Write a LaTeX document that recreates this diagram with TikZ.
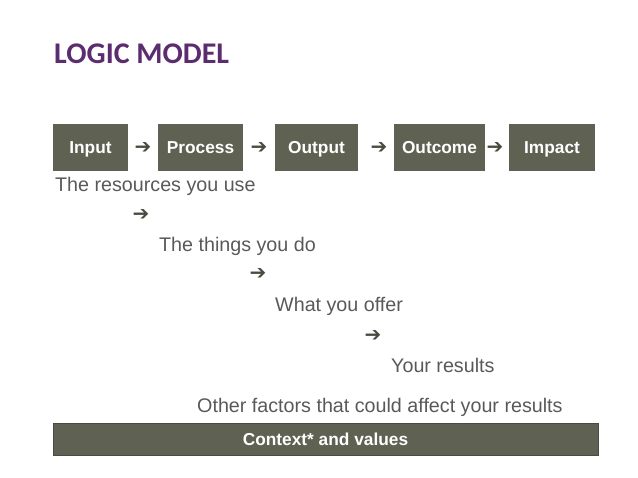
\documentclass[tikz,border=0pt]{standalone}
\usepackage{fontspec}
\setmainfont{Liberation Sans}
\newfontfamily\titlefont{Carlito}
\newfontfamily\symfont{DejaVu Sans}
\definecolor{boxgray}{HTML}{5F6152}
\definecolor{txtgray}{HTML}{595959}
\definecolor{arrgray}{HTML}{4A4B40}
\definecolor{titlepurple}{HTML}{5B2C6F}
\tikzset{
  stagebox/.style={fill=boxgray, text=white, font=\bfseries\fontsize{17.3}{20}\selectfont, minimum height=47pt, inner sep=0pt, text height=12.5pt, text depth=0pt},
  arr/.style={text=arrgray, font=\symfont\fontsize{20}{22}\selectfont, inner sep=0pt},
  desc/.style={text=txtgray, font=\fontsize{19.7}{22}\selectfont, anchor=west, inner sep=0pt, text height=14pt, text depth=4pt}
}
\begin{document}
\begin{tikzpicture}[x=1pt,y=-1pt]
\useasboundingbox (0,0) rectangle (638,478);
\node[anchor=west, inner sep=0pt, text=titlepurple, font=\titlefont\bfseries\fontsize{30}{34}\selectfont] (title) at (54,54) {LOGIC MODEL};
\node[stagebox, minimum width=75pt] (input) at (90.5,147.5) {Input};
\node[stagebox, minimum width=85pt] (process) at (200.5,147.5) {Process};
\node[stagebox, minimum width=83pt] (output) at (316.5,147.5) {Output};
\node[stagebox, minimum width=91pt] (outcome) at (439.5,147.5) {Outcome};
\node[stagebox, minimum width=86pt] (impact) at (552,147.5) {Impact};
\node[arr] (a1) at (143,148) {➔};
\node[arr] (a2) at (259,148) {➔};
\node[arr] (a3) at (379,148) {➔};
\node[arr] (a4) at (495,148) {➔};
\node[desc] (t1) at (55,187) {The resources you use};
\node[arr] (a5) at (141,215) {➔};
\node[desc] (t2) at (159,247) {The things you do};
\node[arr] (a6) at (258,274) {➔};
\node[desc] (t3) at (275,307) {What you offer};
\node[arr] (a7) at (373,336) {➔};
\node[desc] (t4) at (391,368) {Your results};
\node[desc] (t5) at (197,408) {Other factors that could affect your results};
\node[fill=boxgray, draw=arrgray, line width=0.8pt, text=white, font=\bfseries\fontsize{17.3}{20}\selectfont, minimum width=545pt, minimum height=32pt, inner sep=0pt] (ctx) at (325.5,439) {Context* and values};
\end{tikzpicture}
\end{document}
